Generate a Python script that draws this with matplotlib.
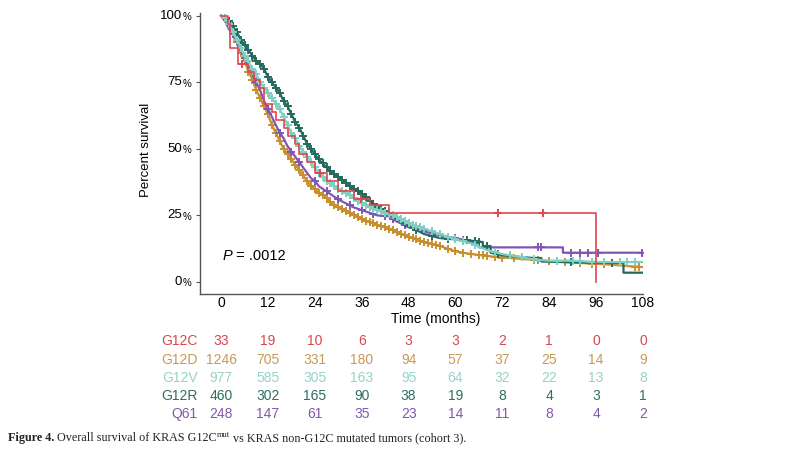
import numpy as np
import matplotlib.pyplot as plt
from matplotlib.transforms import blended_transform_factory

plt.rcParams['font.family'] = ['Liberation Sans', 'DejaVu Sans']

# ---- data ----
months = [0, 12, 24, 36, 48, 60, 72, 84, 96, 108]

groups = ['G12C', 'G12D', 'G12V', 'G12R', 'Q61']
colors = {'G12C': '#e0474f', 'G12D': '#c98f2e', 'G12V': '#80cfc2',
          'G12R': '#246b5e', 'Q61': '#8155b5'}
table_colors = {'G12C': '#d9474f', 'G12D': '#c79a55', 'G12V': '#96d3c8',
                'G12R': '#2d6e62', 'Q61': '#8457b0'}

at_risk = {
    'G12C': [33, 19, 10, 6, 3, 3, 2, 1, 0, 0],
    'G12D': [1246, 705, 331, 180, 94, 57, 37, 25, 14, 9],
    'G12V': [977, 585, 305, 163, 95, 64, 32, 22, 13, 8],
    'G12R': [460, 302, 165, 90, 38, 19, 8, 4, 3, 1],
    'Q61': [248, 147, 61, 35, 23, 14, 11, 8, 4, 2],
}

# small cohort: real steps
g12c_t = [0, 1.8, 2.2, 4.4, 7, 8.5, 10, 11, 13, 14, 16, 17, 19, 20, 22, 24, 27, 30, 34, 38, 43, 96]
g12c_s = [100, 97, 88, 82, 79, 76, 73, 67, 64, 61, 58, 55, 52, 48, 45, 41, 38, 34, 31, 29, 25.8, 0]

# large cohorts: the many tiny steps read as a smooth line; repeated times are visible drops
g12d_t = [0, 1, 2, 3, 4, 5, 6, 7, 8, 9, 10, 11, 12, 13, 14, 15, 16, 17, 18, 19, 20, 21, 22, 23, 24,
          25, 26, 27, 28, 29, 30, 32, 34, 36, 38, 40, 42, 44, 46, 48, 50, 52, 56, 60, 64, 68, 72,
          76, 80, 84, 90, 96, 100, 104, 108]
g12d_s = [100, 98, 96, 93, 90, 86, 83, 79, 76, 72, 69, 66, 63, 59, 56, 53, 50, 48, 46, 44, 42, 40,
          38, 36, 35, 33.5, 32.5, 31.5, 30, 29, 28, 26.5, 25, 23.5, 22.5, 21.5, 20.5, 19.5, 18, 17,
          16, 15, 13.5, 11.5, 10.5, 9.8, 9.2, 8.8, 8.3, 7.8, 7.3, 6.8, 6.5, 6, 5.6]

g12v_t = [0, 1, 2, 3, 4, 5, 6, 7, 8, 9, 10, 11, 12, 13, 14, 15, 16, 17, 18, 19, 20, 21, 22, 23, 24,
          25, 26, 27, 28, 29, 30, 32, 34, 36, 38, 40, 42, 44, 46, 48, 50, 52, 56, 60, 64, 68, 72,
          76, 80, 84, 90, 96, 108]
g12v_s = [100, 99, 97, 94, 91, 88, 85, 83, 80, 78, 75, 73, 71, 69, 67, 65, 62, 59, 56, 54, 51, 49,
          47, 45, 43, 41, 39.5, 38, 37, 36, 35, 33.5, 31.5, 29.5, 28, 27, 26, 25, 23.5, 22, 21,
          20, 18, 16, 14.5, 12, 10.5, 9.5, 8.5, 8, 8, 7.5, 7.5]

g12r_t = [0, 1, 2, 3, 4, 5, 6, 7, 8, 9, 10, 11, 12, 13, 14, 15, 16, 17, 18, 19, 20, 21, 22, 23, 24,
          25, 26, 27, 28, 29, 30, 32, 34, 36, 38, 40, 42, 44, 46, 48, 50, 52, 56, 60, 64, 67, 67,
          69, 69, 72, 80, 82, 82, 96, 103, 103, 108]
g12r_s = [100, 99, 98, 96, 94, 91, 89, 87, 85, 83, 82, 80, 77, 75, 73, 71, 68, 66, 63, 60, 58, 55,
          52, 50, 48, 46, 44.5, 43, 41.5, 40.5, 39.5, 37, 35, 33, 30.5, 28, 26.5, 25, 23, 21, 19.5,
          18, 16.5, 16, 15.5, 15, 13.5, 13.5, 11, 10, 9, 9, 7.7, 7.2, 7.2, 3.5, 3.5]

q61_t = [0, 1, 2, 3, 4, 5, 6, 7, 8, 9, 10, 11, 12, 13, 14, 15, 16, 17, 18, 19, 20, 21, 22, 23, 24,
         25, 26, 27, 28, 29, 30, 32, 34, 36, 38, 40, 44, 44, 48, 50, 52, 56, 60, 64, 66, 66, 87.5,
         87.5, 108]
q61_s = [100, 98, 95, 93, 90, 87, 84, 81, 78, 75, 72, 68, 65, 62, 59, 56, 54, 51, 49, 47, 45, 43,
         41, 39, 38, 36, 35, 34, 33, 32, 31, 29.5, 28, 27, 26, 25, 24.5, 23.5, 20.5, 20, 19, 17.5,
         16.5, 15, 14.5, 13, 13, 11, 11]

# censoring times (months)
g12c_cens = [5.4, 25.4, 35.7, 71, 82.5]
g12d_cens = [4, 5, 6, 7, 8, 9, 10, 11, 12, 13, 14, 15, 16, 17, 18, 19, 20, 21, 22, 23, 24, 25, 26,
             27, 28, 29, 30, 31, 32, 33, 34, 35, 36, 37, 38, 39, 40, 41, 42, 43, 44, 45, 46, 47, 48,
             49, 50, 51, 52, 53, 54, 55, 56, 58, 60, 62, 64, 66, 67, 68, 70, 72, 75, 80, 81, 84, 88,
             92, 95, 98, 106, 107]
g12v_cens = [1, 2, 3, 4, 5, 6, 7, 8, 9, 10, 11, 12, 13, 14, 15, 16, 17, 18, 19, 20, 21, 22, 23, 24,
             25, 26, 27, 28, 29, 30, 31, 32, 33, 34, 35, 36, 37, 38, 39, 40, 41, 42, 43, 44, 45, 46,
             47, 48, 49, 50, 51, 52, 54, 56, 58, 60, 62, 65, 70, 74, 77, 80, 86, 90, 92, 95, 98, 102,
             104, 106]
g12r_cens = [1, 2, 3, 4, 5, 6, 7, 8, 9, 10, 11, 12, 13, 14, 15, 16, 17, 18, 19, 20, 21, 22, 23, 24,
             25, 26, 27, 28, 29, 30, 31, 32, 33, 34, 35, 36, 37, 38, 39, 40, 41, 42, 43, 45, 47, 50,
             54, 58, 60, 63, 65, 66, 68, 71, 89.5, 100]
q61_cens = [3, 6, 9, 12, 15, 18, 20, 24, 27, 30, 33, 36, 39, 42, 44, 47, 52, 60, 62, 68, 81, 82,
            89.5, 92, 94, 96.5, 107.7]

curves = {
    'G12C': (g12c_t, g12c_s, g12c_cens),
    'G12D': (g12d_t, g12d_s, g12d_cens),
    'G12V': (g12v_t, g12v_s, g12v_cens),
    'G12R': (g12r_t, g12r_s, g12r_cens),
    'Q61': (q61_t, q61_s, q61_cens),
}

fig = plt.figure(figsize=(8, 4.53), dpi=100)
ax = fig.add_axes([0.25, 0.351, 0.55375, 0.6203])

for g in ['G12D', 'Q61', 'G12R', 'G12V', 'G12C']:
    t, s, c = curves[g]
    t = np.array(t, dtype=float)
    s = np.array(s, dtype=float)
    if g == 'G12C':
        ax.step(t, s, where='post', color=colors[g], lw=1.2)
        idx = np.searchsorted(t, c, side='right') - 1
        cy = s[idx]
    else:
        ax.plot(t, s, color=colors[g], lw=1.6)
        cy = np.interp(c, t, s)
    ax.plot(c, cy, ls='none', marker='+', ms=5.5, mew=1.4, color=colors[g])

ax.set_xlim(-5.4, 108)
ax.set_ylim(-4.5, 101)
for side in ['top', 'right']:
    ax.spines[side].set_visible(False)
for side in ['left', 'bottom']:
    ax.spines[side].set_color('#555555')
    ax.spines[side].set_linewidth(1.0)

ax.set_xticks(months)
ax.set_xticklabels([str(m) for m in months])
ax.tick_params(axis='x', length=0, pad=1.5, labelsize=10)
ax.set_yticks([0, 25, 50, 75, 100])
ax.set_yticklabels([])
ax.tick_params(axis='y', length=3, width=0.8, color='#555555')
for v in [0, 25, 50, 75, 100]:
    ax.annotate(str(v), xy=(0, v), xycoords=('axes fraction', 'data'), xytext=(-13, 0),
                textcoords='offset points', ha='right', va='center', fontsize=9.5)
    ax.annotate('%', xy=(0, v), xycoords=('axes fraction', 'data'), xytext=(-6.3, -1),
                textcoords='offset points', ha='right', va='center', fontsize=7)

fig.text(146 / 800, 1 - 150 / 453, 'Percent survival', rotation=90, ha='center', va='center',
         fontsize=9.5)
fig.text(436 / 800, 1 - 319 / 453, 'Time (months)', ha='center', va='center', fontsize=10)

p1 = ax.text(0.4, 8.3, 'P', style='italic', fontsize=10.5, va='baseline')
ax.annotate(' = .0012', xy=(1, 0), xycoords=p1, va='bottom', fontsize=10.5)

# number at risk table
tr = blended_transform_factory(ax.transData, fig.transFigure)
row_y = [341, 360, 378, 396, 414]
for g, yy in zip(groups, row_y):
    yf = 1 - yy / 453
    fig.text(198 / 800, yf, g, ha='right', va='center', fontsize=10, color=table_colors[g])
    for m, n in zip(months, at_risk[g]):
        ax.text(m, yf, str(n), transform=tr, ha='center', va='center', fontsize=10,
                color=table_colors[g])

# caption
cap = dict(family='Liberation Serif', fontsize=8.7, color='#222222')
t1 = fig.text(8 / 800, 1 - 441 / 453, 'Figure 4.', fontweight='bold', va='baseline', **cap)
t2 = ax.annotate(' Overall survival of KRAS G12C', xy=(1, 0), xycoords=t1, va='bottom', **cap)
t3 = ax.annotate('mut', xy=(1, 0.45), xycoords=t2, va='bottom', family='Liberation Serif',
                 fontsize=6, color='#222222')
ax.annotate(' vs KRAS non-G12C mutated tumors (cohort 3).', xy=(1, 0), xycoords=(t3, t2),
            va='bottom', **cap)

fig.savefig('out.png', dpi=100)
